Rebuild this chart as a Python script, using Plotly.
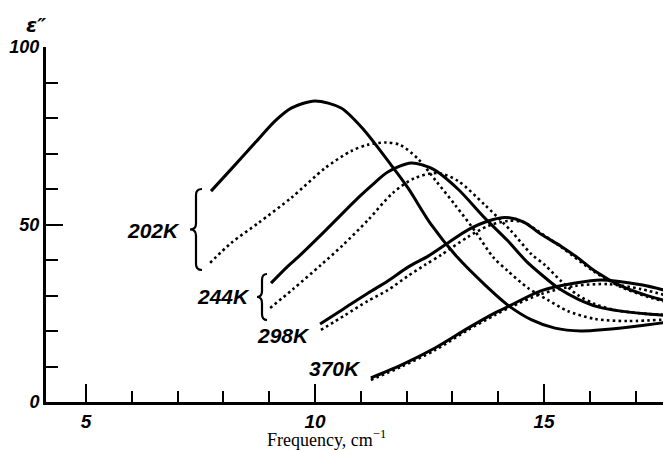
import plotly.graph_objects as go

# ---------------- data ----------------
# 202 K
x_202_solid = [7.73, 8.17, 8.69, 9.13, 9.48, 10.0, 10.57, 11.09, 11.66, 12.03, 12.53, 13.12,
               13.71, 14.21, 14.72, 15.24, 15.81, 16.33, 17.05, 17.86]
y_202_solid = [59.4, 65.6, 73.0, 79.2, 82.8, 84.8, 82.8, 76.3, 66.8, 60.3, 50.1, 40.6,
               33.0, 27.3, 23.2, 20.8, 20.0, 20.4, 21.4, 22.8]
x_202_dot = [7.71, 8.17, 8.76, 9.48, 10.22, 10.79, 11.16, 11.55, 11.86, 12.25, 12.64, 13.06,
             13.49, 13.89, 14.21, 14.65, 15.09, 15.52, 16.11, 16.83, 17.86]
y_202_dot = [39.2, 44.8, 50.4, 57.5, 65.9, 70.7, 72.5, 73.1, 72.4, 68.5, 62.3, 55.5,
             48.2, 40.8, 36.9, 32.1, 28.7, 25.6, 23.4, 22.8, 23.4]

# 244 K
x_244_solid = [9.04, 9.41, 9.63, 10.22, 10.94, 11.27, 11.59, 12.10, 12.58, 13.12, 13.71, 14.21,
               14.61, 14.98, 15.31, 15.74, 16.18, 16.68, 17.27, 17.86]
y_244_solid = [33.5, 38.3, 40.8, 48.2, 57.5, 61.4, 64.8, 67.3, 65.6, 60.0, 51.8, 45.4,
               39.7, 35.5, 32.1, 29.0, 26.8, 25.6, 24.8, 24.2]
x_244_dot = [9.02, 9.52, 10.13, 10.61, 11.16, 11.70, 12.18, 12.69, 13.12, 13.71, 14.28, 14.72,
             15.02, 15.37, 15.74, 16.11, 16.55, 17.27, 17.86]
y_244_dot = [26.5, 31.8, 38.6, 44.2, 51.3, 58.9, 63.1, 64.5, 62.3, 55.5, 48.2, 41.7,
             38.6, 34.1, 30.1, 27.6, 25.9, 24.8, 24.5]

# 298 K
x_298_solid = [10.11, 10.63, 11.16, 11.59, 12.03, 12.47, 12.90, 13.34, 13.78, 14.15, 14.56, 14.93,
               15.37, 15.74, 16.11, 16.68, 17.27, 17.86]
y_298_solid = [22.0, 26.3, 30.7, 34.1, 38.0, 41.1, 44.8, 48.5, 51.0, 52.0, 50.7, 47.3,
               43.9, 40.6, 36.9, 32.7, 29.9, 27.9]
x_298_dot = [10.13, 10.66, 11.16, 11.59, 12.03, 12.40, 12.75, 13.34, 13.78, 14.21, 14.54, 14.93,
             15.37, 16.11, 16.68, 17.27, 17.86]
y_298_dot = [20.3, 24.5, 28.5, 31.5, 35.5, 38.6, 41.4, 46.5, 49.6, 51.0, 50.7, 47.6,
             43.7, 36.6, 32.4, 29.6, 27.6]

# 370 K
x_370_solid = [11.22, 11.88, 12.62, 13.34, 13.93, 14.28, 14.93, 15.68, 16.24, 17.12, 17.86]
y_370_solid = [6.8, 10.4, 15.2, 20.8, 25.1, 27.3, 31.3, 33.5, 34.4, 33.0, 30.7]
x_370_dot = [11.22, 11.88, 12.62, 13.34, 13.93, 14.28, 14.93, 15.68, 16.40, 17.12, 17.86]
y_370_dot = [6.2, 9.9, 14.6, 20.3, 24.5, 26.8, 30.4, 32.7, 33.2, 31.8, 29.3]

temp_labels = ["202K", "244K", "298K", "370K"]
x_tick_vals = [5, 10, 15]
y_tick_vals = [0, 50, 100]
x_title = "Frequency, cm<sup>\u22121</sup>"
y_title = "\u03b5\u2033"

# ---------------- figure ----------------
fig = go.Figure()

series = [
    (x_202_solid, y_202_solid, "solid"), (x_202_dot, y_202_dot, "dot"),
    (x_244_solid, y_244_solid, "solid"), (x_244_dot, y_244_dot, "dot"),
    (x_298_solid, y_298_solid, "solid"), (x_298_dot, y_298_dot, "dot"),
    (x_370_solid, y_370_solid, "solid"), (x_370_dot, y_370_dot, "dot"),
]
for xs, ys, dash in series:
    fig.add_trace(go.Scatter(
        x=xs, y=ys, mode="lines",
        line=dict(color="black", width=3 if dash == "solid" else 2.6,
                  dash="solid" if dash == "solid" else "2.6px,3.2px",
                  shape="spline", smoothing=0.8),
        hoverinfo="skip", showlegend=False))

# plot area in pixels (for placing decorations)
L, R, T, B, W, H = 38, 671, 39, 394, 671, 450

def px2x(px):
    return 5 + (px - 78) / 45.8

def py2y(py):
    return (B - py) / 3.55

def ppx(px):
    return (px - L) / (R - L)

def ppy(py):
    return (B - py) / (B - T)

def brace(xr, top, bot, spine, tip):
    mid = (top + bot) / 2
    r = 6
    pts = [
        ("M", [(xr, top)]),
        ("Q", [(spine, top), (spine, top + r)]),
        ("L", [(spine, mid - r)]),
        ("Q", [(spine, mid), (tip, mid)]),
        ("Q", [(spine, mid), (spine, mid + r)]),
        ("L", [(spine, bot - r)]),
        ("Q", [(spine, bot), (xr, bot)]),
    ]
    s = ""
    for cmd, ps in pts:
        s += cmd + " " + " ".join(f"{px2x(a):.4f},{py2y(b):.4f}" for a, b in ps) + " "
    return s.strip()

fig.add_shape(type="path", xref="x", yref="y",
              path=brace(194, 181, 262, 188, 182),
              line=dict(color="black", width=2.2))
fig.add_shape(type="path", xref="x", yref="y",
              path=brace(259, 266, 312, 254, 249),
              line=dict(color="black", width=2.2))

FAM = "Liberation Sans, Arial, sans-serif"
lab_font = dict(family=FAM, size=21, color="black", weight="bold", style="italic")
label_pos = [(145, 222.5), (215, 288.5), (275, 327.5), (327, 360)]
for txt, (lx, ly) in zip(temp_labels, label_pos):
    fig.add_annotation(x=px2x(lx), y=py2y(ly), xref="x", yref="y", text=txt,
                       showarrow=False, xanchor="center", yanchor="middle", font=lab_font)

# y-axis symbol (top-left)
fig.add_annotation(x=ppx(28), y=ppy(17), xref="paper", yref="paper", text=y_title,
                   showarrow=False, xanchor="center", yanchor="middle",
                   font=dict(family="DejaVu Sans, sans-serif", size=20, color="black",
                             weight="bold", style="italic"))

# x-axis title
fig.add_annotation(x=ppx(318), y=ppy(430), xref="paper", yref="paper", text=x_title,
                   showarrow=False, xanchor="center", yanchor="middle", borderpad=0,
                   font=dict(family="Liberation Serif, Times New Roman, serif", size=18,
                             color="black"))

fig.update_layout(
    width=W, height=H,
    margin=dict(l=L, r=W - R, t=T, b=H - B, autoexpand=False),
    paper_bgcolor="white", plot_bgcolor="white",
    showlegend=False,
    xaxis=dict(range=[px2x(L), px2x(R)], showline=True, linecolor="black", linewidth=2.5,
               ticks="inside", ticklen=18, tickwidth=2, tickcolor="black",
               tickvals=x_tick_vals, ticktext=[str(v) for v in x_tick_vals],
               tickfont=dict(family=FAM, size=19, color="black", weight="bold", style="italic"),
               showgrid=False, zeroline=False, automargin=False,
               minor=dict(dtick=1, tick0=0, ticks="inside", ticklen=11, tickwidth=2,
                          tickcolor="black", showgrid=False)),
    yaxis=dict(range=[0, 100], showline=True, linecolor="black", linewidth=3,
               ticks="inside", ticklen=17, tickwidth=2, tickcolor="black",
               tickvals=y_tick_vals, ticktext=[str(v) for v in y_tick_vals],
               tickfont=dict(family=FAM, size=18, color="black", weight="bold", style="italic"),
               showgrid=False, zeroline=False, automargin=False,
               minor=dict(dtick=10, tick0=0, ticks="inside", ticklen=12, tickwidth=2,
                          tickcolor="black", showgrid=False)),
)

fig.write_html("out.html")
